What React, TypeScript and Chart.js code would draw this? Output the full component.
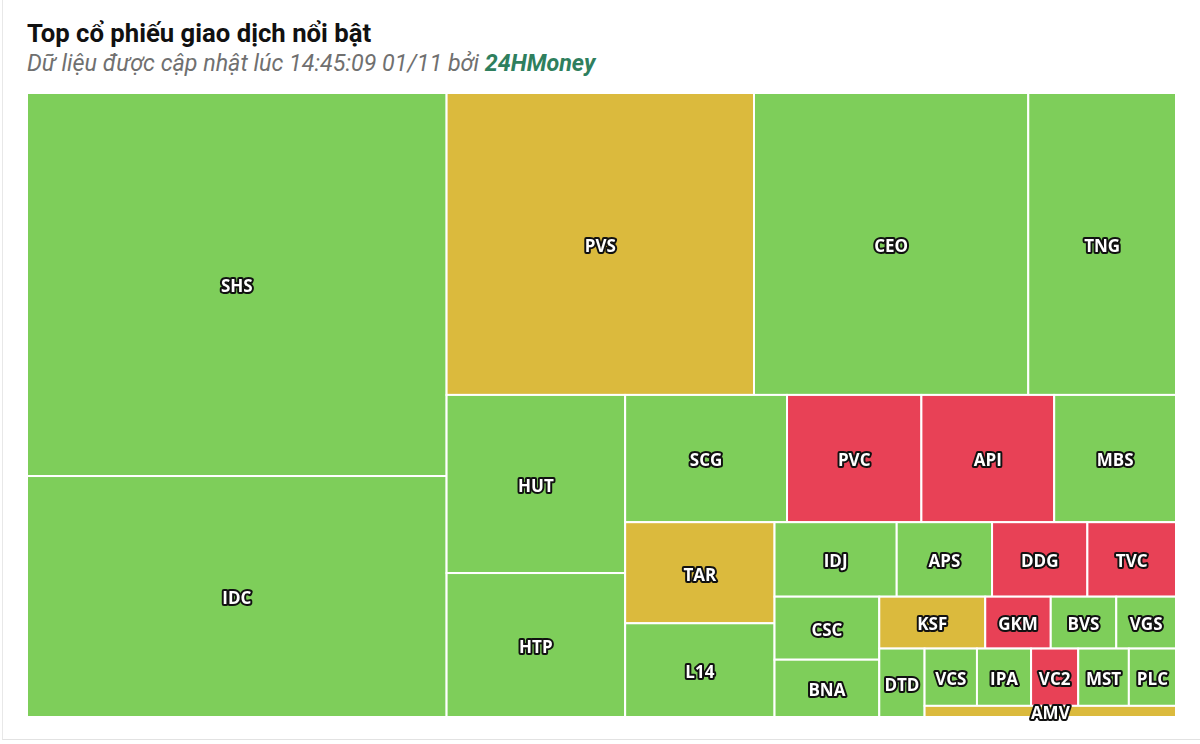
import React, { useEffect, useRef } from "react";
import { Chart, registerables } from "chart.js";

Chart.register(...registerables);

// ---- Data (trading value of each stock) ----
const tickers = [
  "SHS", "IDC", "PVS", "CEO", "TNG", "HUT", "HTP", "SCG", "PVC", "API",
  "MBS", "TAR", "L14", "IDJ", "APS", "DDG", "TVC", "CSC", "BNA", "KSF",
  "GKM", "BVS", "VGS", "DTD", "VCS", "IPA", "VC2", "MST", "PLC", "AMV",
];
const values = [
  1607, 1011, 928, 828, 446, 318, 257, 206, 171, 169,
  155, 151, 140, 91, 71, 71, 66, 66, 60, 55,
  34, 34, 31, 31, 30, 31, 27, 29, 27, 28,
];
// 1 = up (green), 0 = reference (yellow), -1 = down (red)
const trends = [
  1, 1, 0, 1, 1, 1, 1, 1, -1, -1,
  1, 0, 1, 1, 1, -1, -1, 1, 1, 0,
  -1, 1, 1, 1, 1, 1, -1, 1, 1, 0,
];

const TITLE = "Top cổ phiếu giao dịch nổi bật";
const SUBTITLE = "Dữ liệu được cập nhật lúc 14:45:09 01/11 bởi ";
const SOURCE = "24HMoney";

const trendColor = (t: number) =>
  t > 0 ? "#7ECE5A" : t < 0 ? "#E84156" : "#DBBA3D";

type Rect = { x: number; y: number; w: number; h: number };

// Squarified layout with alternating direction (Highcharts style)
function squarified(vals: number[], W: number, H: number): Rect[] {
  const total = vals.reduce((a, b) => a + b, 0);
  const out: Rect[] = [];
  const plot = { x: 0, y: 0 };
  let width = W;
  let height = H;
  let direction = 0;
  let elArr: number[] = [];
  let sum = 0, nW = 0, lW = 0, nH = 0, lH = 0;
  let lR = NaN, nR = NaN;
  const ar = (a: number, b: number) => Math.max(a / b, b / a);
  const add = (el: number) => {
    const last = elArr[elArr.length - 1] as number;
    sum += el;
    if (direction === 0) {
      lW = nW;
      lR = ar(lW, last / lW);
      nW = sum / height;
      nR = ar(nW, last / nW);
    } else {
      lH = nH;
      lR = ar(last / lH, lH);
      nH = sum / width;
      nR = ar(last / nH, nH);
    }
    elArr.push(el);
  };
  const calc = (isLast: boolean) => {
    let gW = lW, gH = lH;
    let keep = 0;
    if (isLast) { gW = nW; gH = nH; } else keep = elArr[elArr.length - 1];
    const end = elArr.length - 1;
    elArr.forEach((p, i) => {
      if (isLast || i < end) {
        let pW: number, pH: number;
        if (direction === 0) { pW = gW; pH = p / pW; } else { pH = gH; pW = p / pH; }
        out.push({ x: plot.x, y: plot.y, w: pW, h: pH });
        if (direction === 0) plot.y += pH; else plot.x += pW;
      }
    });
    nW = 0; lW = 0; elArr = []; sum = 0;
    if (direction === 0) width -= gW; else height -= gH;
    plot.y = H - height;
    plot.x = W - width;
    direction = 1 - direction;
    if (!isLast) add(keep);
  };
  vals.forEach((v, i) => {
    add((W * H * v) / total);
    if (nR > lR) calc(false);
    if (i === vals.length - 1) calc(true);
  });
  return out;
}

const treemapPlugin = {
  id: "treemapCells",
  afterDatasetsDraw(chart: any) {
    const { ctx, chartArea, scales } = chart;
    const xs = scales.x, ys = scales.y;
    const W = chartArea.right - chartArea.left;
    const H = chartArea.bottom - chartArea.top;
    const rects = squarified(values, W, H);
    ctx.save();
    rects.forEach((r, i) => {
      const x0 = xs.getPixelForValue((r.x / W) * 100);
      const x1 = xs.getPixelForValue(((r.x + r.w) / W) * 100);
      const y0 = ys.getPixelForValue((r.y / H) * 100);
      const y1 = ys.getPixelForValue(((r.y + r.h) / H) * 100);
      ctx.fillStyle = trendColor(trends[i]);
      ctx.fillRect(x0, y0, x1 - x0, y1 - y0);
      ctx.strokeStyle = "#ffffff";
      ctx.lineWidth = 2;
      ctx.strokeRect(x0, y0, x1 - x0, y1 - y0);
    });
    ctx.font = 'bold 17px "Open Sans"';
    ctx.textAlign = "center";
    ctx.textBaseline = "middle";
    ctx.lineJoin = "round";
    rects.forEach((r, i) => {
      const cx = xs.getPixelForValue(((r.x + r.w / 2) / W) * 100);
      const cy = ys.getPixelForValue(((r.y + r.h / 2) / H) * 100);
      ctx.lineWidth = 4;
      ctx.strokeStyle = "#111111";
      ctx.strokeText(tickers[i], cx, cy + 3);
      ctx.fillStyle = "#ffffff";
      ctx.fillText(tickers[i], cx, cy + 3);
    });
    ctx.restore();
  },
};

function TreemapChart() {
  const ref = useRef<HTMLCanvasElement | null>(null);
  useEffect(() => {
    if (!ref.current) return;
    const chart = new Chart(ref.current, {
      type: "scatter",
      data: { datasets: [{ data: [], pointRadius: 0 }] },
      options: {
        animation: false,
        responsive: false,
        devicePixelRatio: 1,
        layout: { padding: { left: 0, right: 0, top: 0, bottom: 20 } },
        plugins: { legend: { display: false }, tooltip: { enabled: false }, title: { display: false } },
        scales: {
          x: { type: "linear", min: 0, max: 100, display: false },
          y: { type: "linear", min: 0, max: 100, reverse: true, display: false },
        },
      },
      plugins: [treemapPlugin],
    } as any);
    return () => chart.destroy();
  }, []);
  return (
    <canvas
      ref={ref}
      width={1149}
      height={644}
      style={{ position: "absolute", left: 27, top: 93, width: 1149, height: 644 }}
    />
  );
}

export default function App() {
  return (
    <div style={{ position: "absolute", left: 0, top: 0, width: 1200, height: 744, background: "#ffffff", overflow: "hidden" }}>
      <div
        style={{
          position: "absolute", left: 2, top: -2, width: 1200, height: 742,
          borderLeft: "1px solid #e8e8e8", borderBottom: "1px solid #e2e2e2", boxSizing: "border-box",
        }}
      />
      <div
        style={{
          position: "absolute", left: 27, top: 18, lineHeight: "30px",
          fontFamily: "Roboto", fontSize: 25.7, fontWeight: 700, color: "#111111", whiteSpace: "nowrap",
        }}
      >
        {TITLE}
      </div>
      <div
        style={{
          position: "absolute", left: 27, top: 50, lineHeight: "27px",
          fontFamily: "Roboto", fontSize: 23.3, fontStyle: "italic", color: "#707070", whiteSpace: "nowrap",
        }}
      >
        {SUBTITLE}
        <span style={{ fontWeight: 700, color: "#2F7F5E" }}>{SOURCE}</span>
      </div>
      <TreemapChart />
    </div>
  );
}
